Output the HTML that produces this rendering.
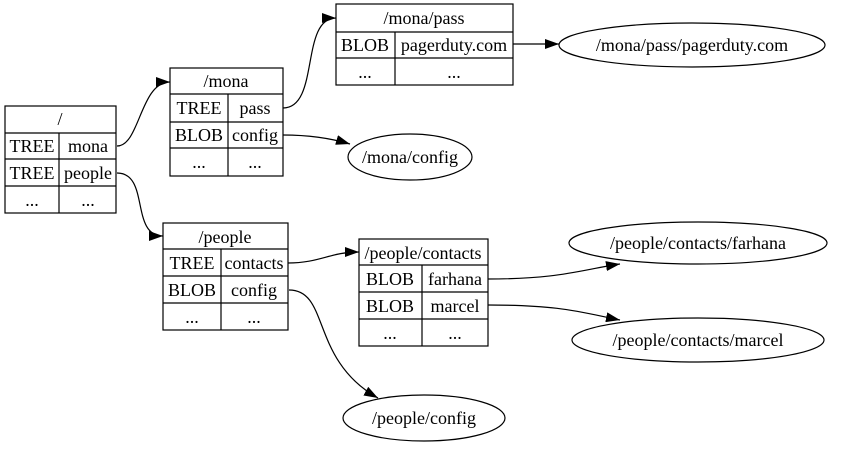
<!DOCTYPE html>
<html><head><meta charset="utf-8"><style>
html,body{margin:0;padding:0;background:#fff;}
text{font-family:"Liberation Serif","Times New Roman",serif;font-size:18px;fill:#000;}
</style></head><body>
<svg width="843" height="447" viewBox="0 0 843 447" xmlns="http://www.w3.org/2000/svg">
<defs><marker id="a" markerWidth="14" markerHeight="10" refX="14" refY="5" orient="auto" markerUnits="userSpaceOnUse"><path d="M0,0 L14,5 L0,10 z" fill="#000"/></marker></defs>
<g fill="none" stroke="#000" stroke-width="1.2">
<rect x="5" y="106" width="111" height="107"/>
<path d="M5 133H116M5 159H116M5 186H116M59 133V213"/>
<rect x="170" y="68" width="113" height="108"/>
<path d="M170 94H283M170 122H283M170 148H283M228 94V176"/>
<rect x="336" y="4" width="177" height="81"/>
<path d="M336 32H513M336 58H513M395 32V85"/>
<rect x="163" y="223" width="125" height="107"/>
<path d="M163 249H288M163 276H288M163 303H288M221 249V330"/>
<rect x="359" y="239" width="129" height="107"/>
<path d="M359 265H488M359 292H488M359 319H488M422 265V346"/>
<ellipse cx="692" cy="45" rx="133" ry="22"/>
<ellipse cx="410" cy="157" rx="62" ry="23"/>
<ellipse cx="698" cy="243" rx="129" ry="21"/>
<ellipse cx="698" cy="340" rx="126" ry="22"/>
<ellipse cx="424" cy="418" rx="81" ry="23"/>
<g marker-end="url(#a)">
<path d="M117 146C140 146 140 82 170 82"/>
<path d="M117 173C150 173 130 236 163 236"/>
<path d="M283 108C320 108 300 18 336 18"/>
<path d="M283 135C310 135 330 138 350 144"/>
<path d="M513 44L559 44"/>
<path d="M288 263C320 263 330 252 359 252"/>
<path d="M289 290C330 290 310 360 378 398"/>
<path d="M488 279C560 279 580 270 620 264"/>
<path d="M488 305C560 305 580 312 620 320"/>
</g>
</g>
<g text-anchor="middle">
<text x="60" y="125">/</text>
<text x="32" y="152">TREE</text><text x="88" y="152">mona</text>
<text x="32" y="179">TREE</text><text x="88" y="179">people</text>
<text x="32" y="206">...</text><text x="88" y="206">...</text>
<text x="226" y="87">/mona</text>
<text x="199" y="114">TREE</text><text x="255" y="114">pass</text>
<text x="199" y="141">BLOB</text><text x="255" y="141">config</text>
<text x="199" y="168">...</text><text x="255" y="168">...</text>
<text x="424" y="24">/mona/pass</text>
<text x="365" y="51">BLOB</text><text x="454" y="51">pagerduty.com</text>
<text x="365" y="78">...</text><text x="454" y="78">...</text>
<text x="225" y="243">/people</text>
<text x="192" y="269">TREE</text><text x="254" y="269">contacts</text>
<text x="192" y="296">BLOB</text><text x="254" y="296">config</text>
<text x="192" y="323">...</text><text x="254" y="323">...</text>
<text x="423" y="259">/people/contacts</text>
<text x="390" y="285">BLOB</text><text x="455" y="285">farhana</text>
<text x="390" y="312">BLOB</text><text x="455" y="312">marcel</text>
<text x="390" y="339">...</text><text x="455" y="339">...</text>
<text x="692" y="51">/mona/pass/pagerduty.com</text>
<text x="410" y="163">/mona/config</text>
<text x="698" y="249">/people/contacts/farhana</text>
<text x="698" y="346">/people/contacts/marcel</text>
<text x="424" y="424">/people/config</text>
</g>
</svg>
</body></html>
